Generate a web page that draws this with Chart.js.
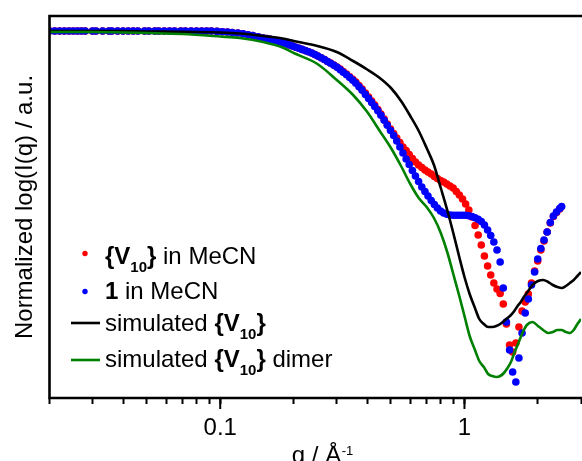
<!DOCTYPE html>
<html><head><meta charset="utf-8">
<script src="https://cdn.jsdelivr.net/npm/chart.js@4/dist/chart.umd.min.js"></script>
<style>
html,body{margin:0;padding:0;background:#fff;overflow:hidden;width:582px;height:461px;}
#wrap{position:relative;width:585px;height:461px;}
</style></head><body>
<div id="wrap"><canvas id="c"></canvas></div>
<script>
// ---------- DATA ----------
const qScatter = [
 0.020,0.021,0.022,0.023,0.024,0.025,0.026,0.027,0.028,0.030,
 0.031,0.033,0.035,0.036,0.038,0.040,0.042,0.044,0.046,0.049,
 0.051,0.054,0.056,0.059,0.062,0.065,0.069,0.072,0.076,0.080,
 0.084,0.088,0.092,0.097,0.102,0.107,0.112,0.118,0.124,0.130,
 0.136,0.143,0.150,
 0.155,0.160,0.165,0.170,0.175,0.180,0.186,0.192,0.198,0.204,
 0.210,0.216,0.223,0.230,0.237,0.244,0.251,0.259,0.267,0.275,
 0.283,0.292,0.301,0.310,0.319,0.329,0.339,0.349,0.359,0.370,
 0.381,0.393,0.405,0.417,0.429,0.442,0.455,0.469,0.483,0.498,
 0.513,0.528,0.544,0.560,0.577,0.594,0.612,0.630,0.649,0.669,
 0.689,0.709,0.731,0.753,0.775,0.798,0.822,0.847,0.872,0.899,
 0.926,0.953,0.982,1.011,1.042,1.073,1.105,1.138,1.172,1.207,
 1.244,1.281,1.319,1.359,1.400,1.442,1.485,1.530,1.575,1.623,
 1.671,1.721,1.773,1.826,1.881,1.937,1.995,2.055,2.117,2.180,
 2.246,2.313,2.382,2.454,2.500
];
// {V10} in MeCN (red)
const yV10MeCN = [
 0,0,0,0,0,0,0,0,0,0,
 0,0,0,0,0,0,0,0,0,0,
 0,0,0,0,0,0,0,0,0,0,
 0,0,0,-0.004,-0.007,-0.01,-0.015,-0.02,-0.028,-0.037,
 -0.046,-0.058,-0.07,
 -0.075,-0.082,-0.09,-0.098,-0.106,-0.116,-0.128,-0.14,-0.151,-0.162,
 -0.173,-0.184,-0.196,-0.208,-0.22,-0.235,-0.25,-0.268,-0.285,-0.305,
 -0.32,-0.34,-0.36,-0.38,-0.405,-0.43,-0.457,-0.483,-0.51,-0.545,
 -0.58,-0.62,-0.66,-0.70,-0.74,-0.785,-0.83,-0.88,-0.93,-0.98,
 -1.025,-1.07,-1.115,-1.16,-1.195,-1.235,-1.275,-1.31,-1.34,-1.365,
 -1.39,-1.41,-1.43,-1.455,-1.475,-1.495,-1.51,-1.53,-1.55,-1.57,
 -1.605,-1.64,-1.68,-1.73,-1.79,-1.86,-1.945,-2.04,-2.14,-2.25,
 -2.35,-2.44,-2.52,-2.58,-2.625,-2.73,-2.93,-3.14,-3.21,-3.12,
 -2.96,-2.80,-2.71,-2.63,-2.52,-2.40,-2.30,-2.19,-2.10,-2.01,
 -1.92,-1.855,-1.815,-1.78,null
];
// 1 in MeCN (blue)
const y1MeCN = [
 0,0,0,0,0,0,0,0,0,0,
 0,0,0,0,0,0,0,0,0,0,
 0,0,0,0,0,0,0,0,0,0,
 0,0,0,-0.004,-0.007,-0.01,-0.015,-0.02,-0.028,-0.037,
 -0.046,-0.058,-0.07,
 -0.075,-0.082,-0.09,-0.098,-0.106,-0.116,-0.128,-0.14,-0.151,-0.162,
 -0.173,-0.184,-0.196,-0.208,-0.22,-0.235,-0.25,-0.268,-0.285,-0.305,
 -0.323,-0.343,-0.363,-0.387,-0.412,-0.438,-0.466,-0.493,-0.522,-0.557,
 -0.593,-0.635,-0.675,-0.715,-0.755,-0.798,-0.843,-0.893,-0.943,-0.995,
 -1.045,-1.10,-1.16,-1.22,-1.28,-1.335,-1.395,-1.45,-1.505,-1.56,
 -1.605,-1.65,-1.695,-1.735,-1.77,-1.80,-1.82,-1.833,-1.84,-1.843,
 -1.843,-1.842,-1.842,-1.843,-1.847,-1.855,-1.867,-1.883,-1.905,-1.94,
 -1.99,-2.045,-2.11,-2.19,-2.31,-2.57,-2.91,-3.19,-3.41,-3.51,
 -3.27,-3.02,-2.82,-2.68,-2.54,-2.41,-2.28,-2.175,-2.09,-2.01,
 -1.915,-1.85,-1.81,-1.775,-1.755
];
const qSim = [
 0.02,0.03,0.04,0.05,0.07,0.1,0.12,0.15,0.18,0.2,
 0.25,0.3,0.35,0.4,0.45,0.5,0.55,0.6,0.65,0.7,
 0.75,0.8,0.85,0.9,0.95,1.0,1.05,1.1,1.15,1.2,
 1.25,1.3,1.35,1.4,1.45,1.5,1.55,1.6,1.65,1.7,
 1.75,1.8,1.9,2.0,2.1,2.2,2.3,2.4,2.5,2.6,
 2.7,2.8,2.9,3.0
];
const ySimV10 = [
 0,0,0,-0.005,-0.007,-0.015,-0.025,-0.05,-0.075,-0.10,
 -0.15,-0.21,-0.30,-0.385,-0.47,-0.57,-0.70,-0.85,-1.00,-1.17,
 -1.34,-1.57,-1.79,-2.02,-2.25,-2.46,-2.63,-2.76,-2.88,-2.93,
 -2.96,-2.96,-2.95,-2.93,-2.90,-2.87,-2.84,-2.80,-2.75,-2.71,
 -2.66,-2.62,-2.54,-2.50,-2.49,-2.51,-2.54,-2.56,-2.57,-2.55,
 -2.52,-2.49,-2.45,-2.41
];
const ySimV10Dimer = [
 -0.01,-0.01,-0.015,-0.02,-0.03,-0.055,-0.07,-0.11,-0.165,-0.22,
 -0.33,-0.49,-0.64,-0.81,-1.00,-1.17,-1.35,-1.53,-1.67,-1.76,
 -1.87,-2.02,-2.21,-2.43,-2.64,-2.85,-3.05,-3.18,-3.30,-3.36,
 -3.43,-3.45,-3.46,-3.45,-3.42,-3.37,-3.31,-3.22,-3.14,-3.06,
 -2.99,-2.94,-2.91,-2.95,-2.99,-3.02,-3.01,-2.99,-2.99,-3.01,
 -3.02,-2.99,-2.93,-2.88
];
const xTickValues = [0.02,0.03,0.04,0.05,0.06,0.07,0.08,0.09,0.1,0.2,0.3,0.4,0.5,0.6,0.7,0.8,0.9,1,2,3];
const xMajorTicks = [0.1, 1];
const xTickLabels = ['0.1', '1'];
const seriesNames = [
 '<b>{V<sub>10</sub>}</b> in MeCN',
 '<b>1</b> in MeCN',
 'simulated <b>{V<sub>10</sub>}</b>',
 'simulated <b>{V<sub>10</sub>}</b> dimer'
];
const xTitle = ['q / Å', '-1'];
const yTitle = 'Normalized log(I(q) / a.u.';

// ---------- RENDER ----------
const FONT = '"Liberation Sans", Arial, Helvetica, sans-serif';
const COLORS = ['#ff0000', '#0000ff', '#000000', '#008000'];
const strip = s => s.replace(/<[^>]+>/g, '');
function runs(s) {
  const out = []; let b = false, sub = false;
  s.split(/(<\/?b>|<\/?sub>)/).forEach(t => {
    if (t === '<b>') b = true; else if (t === '</b>') b = false;
    else if (t === '<sub>') sub = true; else if (t === '</sub>') sub = false;
    else if (t) out.push({t, b, sub});
  });
  return out;
}
const pts = (qs, ys) => qs.map((q, i) => ({x: q, y: ys[i]})).filter(p => p.y !== null && p.y !== undefined);

const decor = {
  id: 'decor',
  afterDraw(chart) {
    const {ctx, chartArea: a, scales: {x}} = chart;
    ctx.save();
    // frame
    ctx.strokeStyle = '#000'; ctx.lineWidth = 2.6; ctx.lineCap = 'square';
    ctx.beginPath();
    ctx.moveTo(a.left, a.top); ctx.lineTo(chart.width + 5, a.top);
    ctx.moveTo(a.left, a.top); ctx.lineTo(a.left, a.bottom);
    ctx.moveTo(a.left, a.bottom); ctx.lineTo(chart.width + 5, a.bottom);
    ctx.stroke();
    // major ticks
    ctx.lineWidth = 2; ctx.lineCap = 'butt';
    xMajorTicks.forEach(v => {
      const px = x.getPixelForValue(v);
      ctx.beginPath(); ctx.moveTo(px, a.bottom); ctx.lineTo(px, a.bottom + 11); ctx.stroke();
    });
    // x title
    ctx.fillStyle = '#000';
    ctx.textBaseline = 'alphabetic';
    ctx.font = '24px ' + FONT;
    const w1 = ctx.measureText(xTitle[0]).width;
    ctx.font = '13px ' + FONT;
    const w2 = ctx.measureText(xTitle[1]).width;
    const cx = (a.left + a.right) / 2 + 7;
    let sx = cx - (w1 + w2) / 2;
    ctx.font = '24px ' + FONT; ctx.textAlign = 'left';
    ctx.fillText(xTitle[0], sx, 463);
    ctx.font = '13px ' + FONT;
    ctx.fillText(xTitle[1], sx + w1 + 0.5, 455);
    // y title
    ctx.save();
    ctx.translate(32, (a.top + a.bottom) / 2);
    ctx.rotate(-Math.PI / 2);
    ctx.font = '24px ' + FONT; ctx.textAlign = 'center';
    ctx.fillText(yTitle, 0, 0);
    ctx.restore();
    // legend
    const rows = [
      {kind: 'dot', my: 253.5, base: 263.5},
      {kind: 'dot', my: 291.5, base: 298.5},
      {kind: 'line', my: 323, base: 331},
      {kind: 'line', my: 360, base: 367}
    ];
    rows.forEach((r, i) => {
      ctx.fillStyle = COLORS[i]; ctx.strokeStyle = COLORS[i];
      if (r.kind === 'dot') {
        ctx.beginPath(); ctx.arc(85, r.my, 2.7, 0, Math.PI * 2); ctx.fill();
      } else {
        ctx.lineWidth = 2.6;
        ctx.beginPath(); ctx.moveTo(71, r.my); ctx.lineTo(100, r.my); ctx.stroke();
      }
      ctx.fillStyle = '#000'; ctx.textAlign = 'left';
      let tx = 105;
      runs(seriesNames[i]).forEach(rn => {
        ctx.font = (rn.b ? 'bold ' : '') + (rn.sub ? 15 : 24) + 'px ' + FONT;
        ctx.fillText(rn.t, tx, r.base + (rn.sub ? 8 : 0));
        tx += ctx.measureText(rn.t).width;
      });
    });
    ctx.restore();
  }
};

new Chart(document.getElementById('c'), {
  type: 'scatter',
  data: {
    datasets: [
      {label: strip(seriesNames[3]), data: pts(qSim, ySimV10Dimer), showLine: true, borderColor: COLORS[3],
       borderWidth: 2.6, pointRadius: 0, cubicInterpolationMode: 'monotone', order: 0},
      {label: strip(seriesNames[2]), data: pts(qSim, ySimV10), showLine: true, borderColor: COLORS[2],
       borderWidth: 2.6, pointRadius: 0, cubicInterpolationMode: 'monotone', order: 1},
      {label: strip(seriesNames[1]), data: pts(qScatter, y1MeCN), backgroundColor: COLORS[1], pointBackgroundColor: COLORS[1],
       pointRadius: 3.8, pointBorderWidth: 0, borderWidth: 0, order: 2},
      {label: strip(seriesNames[0]), data: pts(qScatter, yV10MeCN), backgroundColor: COLORS[0], pointBackgroundColor: COLORS[0],
       pointRadius: 3.8, pointBorderWidth: 0, borderWidth: 0, order: 3}
    ]
  },
  options: {
    responsive: true, maintainAspectRatio: false, animation: false, devicePixelRatio: 1,
    events: [],
    layout: {padding: {top: 16, right: 1.5, left: 0, bottom: 0}},
    plugins: {legend: {display: false}, tooltip: {enabled: false}},
    scales: {
      x: {
        type: 'logarithmic', min: 0.02, max: 3, position: 'bottom',
        afterBuildTicks: s => { s.ticks = xTickValues.map(v => ({value: v})); },
        afterFit: s => { s.height = 63; s.paddingLeft = 0; s.paddingRight = 0; },
        grid: {display: true, drawOnChartArea: false, drawTicks: true, tickLength: 6, tickWidth: 2, tickColor: '#000'},
        border: {display: false},
        ticks: {autoSkip: false, maxRotation: 0, minRotation: 0, padding: 10, color: '#000',
          font: {family: FONT, size: 24},
          callback: v => { const k = xMajorTicks.indexOf(v); return k >= 0 ? xTickLabels[k] : ''; }}
      },
      y: {
        min: -3.67, max: 0.15,
        afterFit: s => { s.width = 49.5; s.paddingTop = 0; s.paddingBottom = 0; },
        grid: {display: false}, border: {display: false}, ticks: {display: false}
      }
    }
  },
  plugins: [decor]
});
</script>
</body></html>
